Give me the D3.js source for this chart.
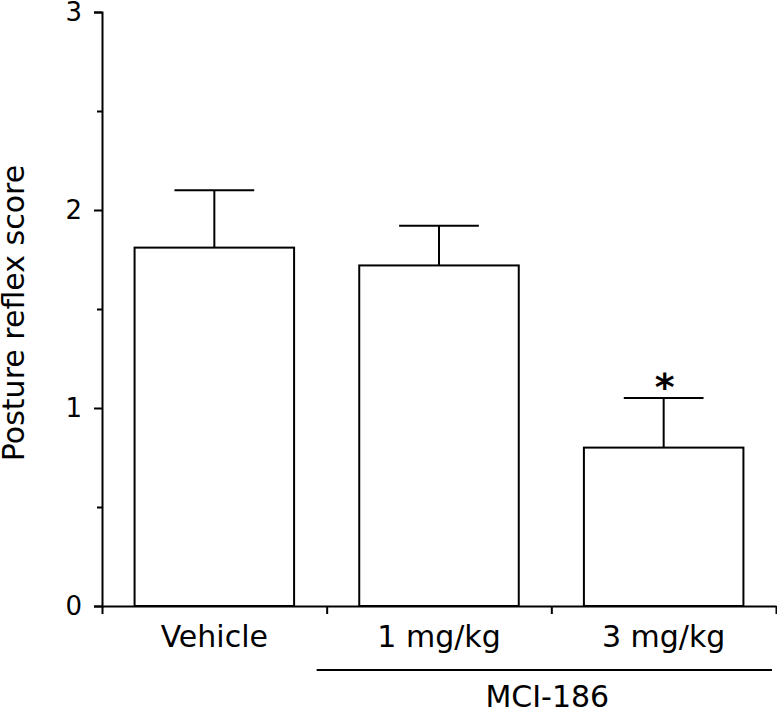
<!DOCTYPE html>
<html>
<head>
<meta charset="utf-8">
<script src="https://cdn.jsdelivr.net/npm/d3@7"></script>
<style>
  body { margin: 0; background: #fff; }
  text { font-family: "DejaVu Sans", Verdana, sans-serif; fill: #000; }
</style>
</head>
<body>
<div id="chart"></div>
<script>
const categories = ['Vehicle', '1 mg/kg', '3 mg/kg'];
const means = [1.81, 1.72, 0.80];
const sems = [0.29, 0.20, 0.25];
const yTicks = [0, 1, 2, 3];
const yMinor = [0.5, 1.5, 2.5];
const starred = [false, false, true];

const width = 777, height = 711;
const margin = { top: 12, right: 1, bottom: 105, left: 102 };

const svg = d3.select('#chart')
  .append('svg')
  .attr('width', width)
  .attr('height', height);

const x = d3.scaleBand()
  .domain(categories)
  .range([margin.left, width - margin.right])
  .paddingInner(0.29)
  .paddingOuter(0.145);

// boundaries between groups, for the x ticks
const xb = d3.scaleLinear()
  .domain([0, categories.length])
  .range([margin.left, width - margin.right]);

const y = d3.scaleLinear()
  .domain([0, 3])
  .range([height - margin.bottom, margin.top]);

const data = categories.map((c, i) => ({ cat: c, mean: means[i], sem: sems[i], star: starred[i] }));

// bars
svg.append('g')
  .selectAll('rect')
  .data(data)
  .enter().append('rect')
  .attr('x', d => x(d.cat))
  .attr('y', d => y(d.mean))
  .attr('width', x.bandwidth())
  .attr('height', d => y(0) - y(d.mean))
  .style('fill', 'white')
  .style('stroke', 'black')
  .style('stroke-width', 2);

// error bars (upper only)
const err = svg.append('g');
err.selectAll('line.v')
  .data(data)
  .enter().append('line')
  .attr('class', 'v')
  .attr('x1', d => x(d.cat) + x.bandwidth() / 2)
  .attr('x2', d => x(d.cat) + x.bandwidth() / 2)
  .attr('y1', d => y(d.mean))
  .attr('y2', d => y(d.mean + d.sem))
  .style('stroke', 'black')
  .style('stroke-width', 2);
err.selectAll('line.cap')
  .data(data)
  .enter().append('line')
  .attr('class', 'cap')
  .attr('x1', d => x(d.cat) + x.bandwidth() / 4)
  .attr('x2', d => x(d.cat) + x.bandwidth() * 3 / 4)
  .attr('y1', d => y(d.mean + d.sem))
  .attr('y2', d => y(d.mean + d.sem))
  .style('stroke', 'black')
  .style('stroke-width', 2);

// significance marker
svg.append('g')
  .selectAll('text')
  .data(data.filter(d => d.star))
  .enter().append('text')
  .attr('x', d => x(d.cat) + x.bandwidth() / 2 + 1)
  .attr('y', d => y(d.mean + d.sem) + 2)
  .attr('text-anchor', 'middle')
  .style('font-size', '38px')
  .style('font-weight', 'bold')
  .text('*');

// y axis
const yAxis = svg.append('g')
  .attr('transform', `translate(${margin.left},0)`)
  .call(d3.axisLeft(y).tickValues(yTicks).tickFormat(d3.format('d')).tickSize(8).tickPadding(12));
yAxis.selectAll('text').style('font-size', '26px');
yAxis.selectAll('line, path').style('stroke-width', 2);

svg.append('g')
  .attr('transform', `translate(${margin.left},0)`)
  .call(d3.axisLeft(y).tickValues(yMinor).tickFormat('').tickSize(5).tickSizeOuter(0))
  .call(g => g.select('.domain').remove())
  .selectAll('line').style('stroke-width', 2);

// x axis
const xAxis = svg.append('g')
  .attr('transform', `translate(0,${y(0)})`)
  .call(d3.axisBottom(xb).tickValues(d3.range(categories.length + 1)).tickFormat('').tickSize(8).tickSizeOuter(0));
xAxis.selectAll('line, path').style('stroke-width', 2);

svg.append('g')
  .selectAll('text')
  .data(categories)
  .enter().append('text')
  .attr('x', d => x(d) + x.bandwidth() / 2)
  .attr('y', y(0) + 41)
  .attr('text-anchor', 'middle')
  .style('font-size', '30px')
  .text(d => d);

// group bracket for MCI-186
svg.append('line')
  .attr('x1', xb(1) - 10)
  .attr('x2', xb(3) - 4)
  .attr('y1', y(0) + 64)
  .attr('y2', y(0) + 64)
  .style('stroke', 'black')
  .style('stroke-width', 2);

svg.append('text')
  .attr('x', (xb(1) + xb(3)) / 2 - 4)
  .attr('y', y(0) + 101)
  .attr('text-anchor', 'middle')
  .style('font-size', '30px')
  .text('MCI-186');

// y label
svg.append('text')
  .attr('transform', `translate(24,${(y(0) + y(3)) / 2 + 4}) rotate(-90)`)
  .attr('text-anchor', 'middle')
  .style('font-size', '30px')
  .text('Posture reflex score');
</script>
</body>
</html>
